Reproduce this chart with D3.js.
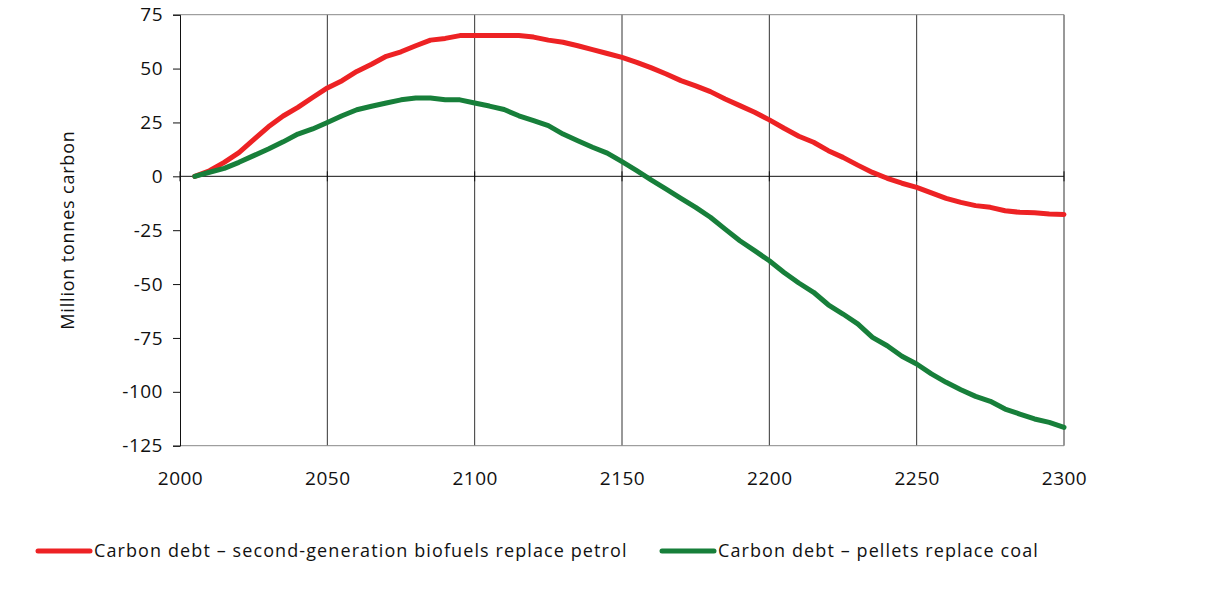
<!DOCTYPE html>
<html>
<head>
<meta charset="utf-8">
<script src="https://cdn.jsdelivr.net/npm/d3@7"></script>
<style>
  body { margin: 0; background: #fff; }
  svg text { font-family: "Open Sans", sans-serif; fill: #111; }
</style>
</head>
<body>
<svg id="chart" width="1213" height="597"></svg>
<script>
const years = d3.range(2005, 2301, 5);
const petrolDebt = [
    0, 2.6, 6.5, 11, 17, 23, 28, 32, 36.6, 41,
    44.4, 48.7, 52, 55.7, 57.8, 60.6, 63.2, 64, 65.3, 65.3,
    65.3, 65.3, 65.3, 64.6, 63.2, 62.2, 60.6, 58.8, 57, 55.2,
    52.9, 50.3, 47.5, 44.4, 42, 39.3, 35.9, 32.8, 29.7, 26.2,
    22.3, 18.6, 15.8, 11.9, 8.8, 5.2, 1.8, -0.9, -3.2, -5.1,
    -7.7, -10.2, -12.1, -13.6, -14.4, -16, -16.7, -16.9, -17.5, -17.7,
];
const coalDebt = [
    0, 1.9, 3.7, 6.5, 9.6, 12.7, 16, 19.6, 22, 25,
    28.1, 30.9, 32.5, 34, 35.5, 36.3, 36.3, 35.5, 35.5, 34,
    32.6, 31, 28.1, 25.8, 23.5, 19.6, 16.5, 13.5, 10.8, 6.8,
    2.6, -1.8, -5.9, -10.2, -14.4, -19, -24.5, -29.9, -34.5, -39.2,
    -44.6, -49.5, -53.8, -59.6, -63.9, -68.5, -74.7, -78.6, -83.5, -87.1,
    -91.7, -95.6, -99, -102.1, -104.4, -108, -110.3, -112.6, -114.2, -116.5,
];
const xTicks = [2000, 2050, 2100, 2150, 2200, 2250, 2300];
const yTicks = [75, 50, 25, 0, -25, -50, -75, -100, -125];
const seriesNames = [
    "Carbon debt \u2013 second-generation biofuels replace petrol",
    "Carbon debt \u2013 pellets replace coal",
];
const seriesColors = ["#ed2224", "#177f3a"];

const svg = d3.select("#chart");
const x = d3.scaleLinear().domain([2000, 2300]).range([180, 1064]);
const y = d3.scaleLinear().domain([-125, 75]).range([445.7, 14.7]);

// frame and grid
let grid = svg.append("g");
grid.selectAll("line.v")
    .data(xTicks.slice(1))
    .enter()
    .append("line")
    .attr("x1", (d) => x(d))
    .attr("x2", (d) => x(d))
    .attr("y1", y(75))
    .attr("y2", y(-125))
    .attr("stroke", "#333")
    .attr("stroke-width", 1);
grid.selectAll("line.h")
    .data([75, -125])
    .enter()
    .append("line")
    .attr("x1", x(2000))
    .attr("x2", x(2300))
    .attr("y1", (d) => y(d))
    .attr("y2", (d) => y(d))
    .attr("stroke", "#888")
    .attr("stroke-width", 1);

// zero line with crossing ticks
grid.append("line")
    .attr("x1", x(2000))
    .attr("x2", x(2300))
    .attr("y1", y(0))
    .attr("y2", y(0))
    .attr("stroke", "#111");
grid.selectAll("line.xt")
    .data(xTicks)
    .enter()
    .append("line")
    .attr("x1", (d) => x(d))
    .attr("x2", (d) => x(d))
    .attr("y1", y(0) - 5)
    .attr("y2", y(0) + 5)
    .attr("stroke", "#111");

// y axis
let yAxis = svg.append("g")
    .attr("transform", `translate(${x(2000)},0)`)
    .call(d3.axisLeft(y).tickValues(yTicks).tickFormat((d) => String(d)).tickSize(7).tickPadding(10));
yAxis.select(".domain").attr("stroke", "#111");
yAxis.selectAll(".tick line").attr("stroke", "#111");
yAxis.selectAll("text")
    .attr("font-size", 19)
    .attr("letter-spacing", 0.5)
    .attr("font-family", "Open Sans, sans-serif")
    .attr("fill", "#111");

// x tick labels
let xAxis = svg.append("g")
    .attr("transform", `translate(0,${y(-125)})`)
    .call(d3.axisBottom(x).tickValues(xTicks).tickFormat(d3.format("d")).tickSize(0).tickPadding(26));
xAxis.select(".domain").remove();
xAxis.selectAll("text")
    .attr("font-size", 19)
    .attr("letter-spacing", 0.5)
    .attr("font-family", "Open Sans, sans-serif")
    .attr("fill", "#111");

svg.append("text")
    .attr("transform", "translate(68,230) rotate(-90)")
    .attr("text-anchor", "middle")
    .attr("dy", "0.35em")
    .attr("font-size", 18)
    .attr("letter-spacing", 0.8)
    .text("Million tonnes carbon");

// lines
const line = d3.line()
    .x((d, i) => x(years[i]))
    .y((d) => y(d));

[petrolDebt, coalDebt].forEach((vals, i) => {
    svg.append("path")
        .datum(vals)
        .attr("d", line)
        .attr("fill", "none")
        .attr("stroke", seriesColors[i])
        .attr("stroke-width", 5)
        .attr("stroke-linejoin", "round")
        .attr("stroke-linecap", "round");
});

// legend
const legendX = [38, 662];
let legend = svg.selectAll("g.legend")
    .data(seriesNames)
    .enter()
    .append("g")
    .attr("transform", (d, i) => `translate(${legendX[i]},551)`);
legend.append("line")
    .attr("x1", 0)
    .attr("x2", 52)
    .attr("stroke", (d, i) => seriesColors[i])
    .attr("stroke-width", 5)
    .attr("stroke-linecap", "round");
legend.append("text")
    .attr("x", 56)
    .attr("dy", "0.35em")
    .attr("font-size", 18)
    .attr("letter-spacing", 1.1)
    .text((d) => d);
</script>
</body>
</html>
